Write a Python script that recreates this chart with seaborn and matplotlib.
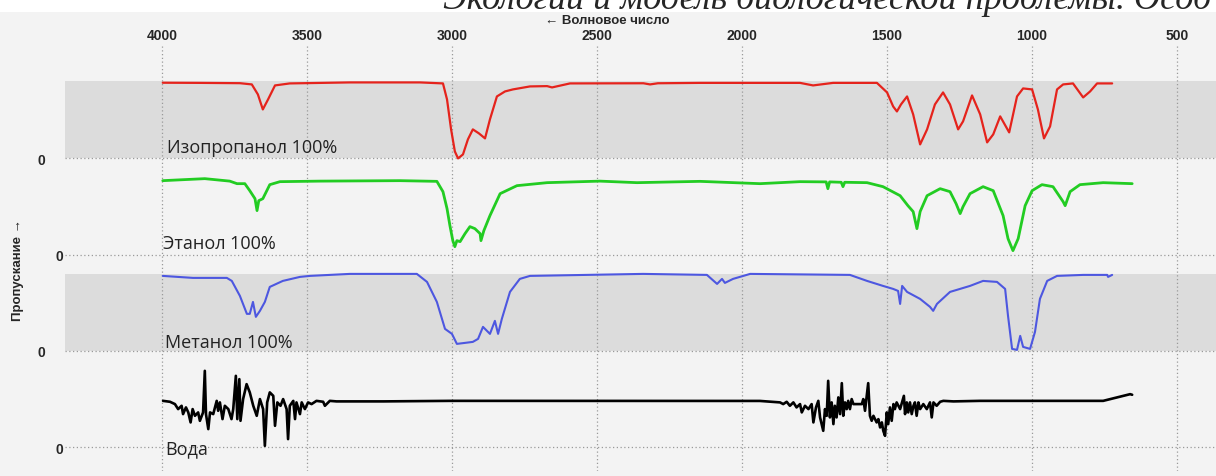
import pandas as pd
import seaborn as sns
import matplotlib.pyplot as plt
from matplotlib.patches import Rectangle

# IR spectra: wavenumber (cm-1) and transmittance (% of band)
iso_wn = [3997, 3869, 3731, 3690, 3669, 3652, 3634, 3610, 3559, 3352, 3110, 3031, 3017, 3003,
          2990, 2979, 2962, 2945, 2928, 2907, 2886, 2869, 2845, 2817, 2790, 2731, 2672, 2655,
          2593, 2340, 2317, 2290, 2145, 1800, 1755, 1686, 1535, 1500, 1479, 1466, 1452, 1431,
          1410, 1386, 1362, 1335, 1307, 1283, 1255, 1238, 1207, 1179, 1155, 1134, 1110, 1079,
          1052, 1031, 1000, 980, 959, 938, 914, 893, 859, 824, 800, 776, 724]
iso_t = [98.3, 98.1, 97.7, 96.1, 83.1, 63.6, 76.6, 94.8, 97.4, 98.7, 98.7, 97.4, 76.6, 37.7,
         9.1, 0, 5.2, 24.7, 37.7, 32.5, 26, 50.7, 80.5, 87, 89.6, 93.5, 93.9, 92.2,
         97.4, 97.6, 96.1, 97.6, 98.1, 98.1, 94.8, 98.1, 98.1, 85.7, 67.5, 61, 70.1, 80.5,
         57.2, 18.2, 37.7, 70.1, 85.7, 70.1, 37.7, 48.1, 81.8, 57.2, 20.8, 31.2, 54.6, 33.8,
         80.5, 90.9, 89.6, 63.6, 26, 41.6, 89.6, 96.1, 97.4, 79.2, 87, 97.4, 97.4]

eth_wn = [3997, 3852, 3766, 3741, 3714, 3697, 3679, 3672, 3666, 3652, 3628, 3593, 3455, 3179,
          3052, 3031, 3017, 3007, 2997, 2990, 2983, 2972, 2955, 2938, 2921, 2903, 2900, 2890,
          2869, 2834, 2776, 2672, 2490, 2362, 2145, 1938, 1800, 1710, 1704, 1698, 1658, 1652,
          1646, 1569, 1514, 1455, 1428, 1410, 1397, 1386, 1362, 1317, 1283, 1262, 1248, 1238,
          1214, 1169, 1134, 1100, 1083, 1066, 1048, 1024, 1000, 966, 928, 893, 886, 869, 835,
          755, 655]
eth_t = [96.1, 98.7, 95.5, 92.2, 92.2, 83.1, 72.7, 57.2, 70.1, 72.7, 90.9, 94.8, 95.5, 96.1,
         95.2, 81.8, 59.8, 37.7, 18.2, 10.4, 18.2, 16.9, 27.3, 36.4, 33.8, 27.3, 18.2, 31.2,
         50.7, 79.2, 89.6, 93.5, 95.5, 93.5, 95.2, 92.2, 94.8, 94.5, 85.7, 94.5, 94, 88.3,
         94, 93.5, 88.3, 76.6, 63.6, 55.9, 33.8, 55.9, 76.6, 85.7, 81.8, 66.2, 53.3, 62.4,
         79.2, 88.3, 83.1, 50.7, 20.8, 5.2, 20.8, 63.6, 83.1, 90.9, 88.3, 68.8, 63.6, 81.8, 90.9,
         93.5, 92.2]

met_wn = [3997, 3893, 3776, 3759, 3731, 3707, 3697, 3686, 3676, 3662, 3645, 3628, 3583, 3524,
          3490, 3352, 3121, 3086, 3052, 3024, 3000, 2983, 2955, 2928, 2910, 2893, 2869, 2852,
          2841, 2828, 2800, 2766, 2731, 2341, 2121, 2086, 2069, 2059, 2031, 1972, 1628, 1569,
          1514, 1479, 1462, 1455, 1448, 1431, 1386, 1352, 1341, 1328, 1283, 1214, 1169, 1121,
          1093, 1083, 1069, 1052, 1041, 1031, 1007, 990, 973, 948, 914, 824, 741, 738, 724]
met_t = [97.4, 94.8, 94.8, 90.9, 71.4, 48.1, 48.1, 63.6, 44.2, 52, 63.6, 83.1, 90.9, 96.1,
         97.4, 100, 100, 89.6, 63.6, 28.6, 22.1, 9.1, 10.4, 11.7, 15.6, 31.2, 22.1, 39,
         22.1, 41.6, 76.6, 93.5, 97.4, 100, 98.7, 87, 93.5, 88.3, 93.5, 100, 98.7, 90.9,
         84.4, 80.5, 77.9, 61, 84.4, 76.6, 67.5, 57.2, 52, 61, 76.6, 84.4, 90.9, 89.6,
         80.5, 45.5, 2.6, 1.3, 19.5, 5.2, 2.6, 24.7, 67.5, 90.9, 97.4, 98.7, 98.7, 96.1, 98.7]

wat_wn = [3996, 3972, 3955, 3944, 3932, 3927, 3917, 3909, 3901, 3894, 3886, 3875, 3869, 3858,
          3852, 3848, 3840, 3834, 3823, 3811, 3806, 3800, 3791, 3783, 3771, 3760, 3754, 3745,
          3740, 3733, 3729, 3720, 3708, 3697, 3685, 3673, 3662, 3651, 3645, 3637, 3628, 3616,
          3610, 3602, 3591, 3582, 3570, 3565, 3559, 3547, 3541, 3536, 3524, 3518, 3507, 3496,
          3484, 3467, 3444, 3438, 3421, 3398, 3237, 3007, 2938, 2500, 1938, 1900,
          1869, 1858, 1846, 1835, 1823, 1812, 1800, 1794, 1783, 1771, 1760, 1754, 1745, 1737,
          1731, 1720, 1714, 1708, 1703, 1697, 1691, 1685, 1680, 1674, 1668, 1662, 1656, 1651,
          1645, 1639, 1634, 1628, 1622, 1616, 1605, 1587, 1582, 1576, 1565, 1559, 1553, 1547,
          1536, 1530, 1524, 1518, 1513, 1507, 1501, 1496, 1490, 1484, 1478, 1473, 1467, 1455,
          1450, 1442, 1438, 1432, 1427, 1421, 1415, 1409, 1404, 1398, 1392, 1386, 1375, 1363,
          1352, 1346, 1340, 1329, 1317, 1306, 1271, 1180, 1111, 755, 707, 662, 655]
wat_t = [60.1, 58.9, 55.9, 49.4, 53.7, 42.9, 51.6, 45.1, 32.1, 49.4, 40.7, 45.1, 34.2, 45.1,
         99.1, 42.9, 23.4, 45.1, 42.9, 60.1, 47.2, 58.1, 36.4, 53.7, 49.4, 36.4, 49.4, 92.6,
         36.4, 88.3, 34.2, 62.4, 81.8, 71.1, 53.7, 40.7, 62.4, 49.4, 1.7, 58.1, 71.1, 66.6,
         27.7, 58.1, 53.7, 62.4, 49.4, 10.4, 53.7, 60.1, 36.4, 58.1, 42.9, 58.1, 49.4, 58.1,
         55.9, 60.1, 58.9, 53.7, 60.1, 59.4, 59.4, 60.1, 60.1, 60.0, 60.0, 58.9,
         58.1, 55.9, 58.9, 53.7, 58.1, 51.6, 55.9, 45.1, 53.7, 49.4, 55.9, 32.1, 51.6, 60.1,
         38.6, 21.2, 49.4, 40.7, 86.1, 38.6, 58.1, 29.9, 53.7, 38.6, 64.6, 42.9, 83.1, 40.7,
         58.1, 49.4, 60.1, 49.4, 62.4, 55.9, 55.9, 55.9, 62.4, 47.2, 83.1, 40.7, 34.2, 40.7,
         32.1, 36.4, 25.6, 32.1, 21.2, 14.7, 45.1, 29.9, 51.6, 34.2, 55.9, 49.4, 58.1, 49.4,
         55.9, 66.6, 42.9, 58.1, 45.1, 58.1, 42.9, 53.7, 58.1, 40.7, 58.1, 49.4, 55.9, 49.4,
         58.1, 38.6, 58.1, 53.7, 58.9, 60.1, 59.4, 60.1, 60.1, 60.1, 64.6, 68.8, 68.0]

samples = ["Изопропанол 100%", "Этанол 100%", "Метанол 100%", "Вода"]
colors = ["#e5231c", "#22cc22", "#4d57e0", "#000000"]

spectra = [(iso_wn, iso_t), (eth_wn, eth_t), (met_wn, met_t), (wat_wn, wat_t)]
offsets = [375, 250, 125, 0]
widths = [1.6, 2.0, 1.5, 1.9]
label_pos = [(3983, 383), (3997, 258), (3990, 130), (3990, -8)]

parts = []
for name, (wn, t), off in zip(samples, spectra, offsets):
    part = pd.DataFrame({"wn": wn, "T": t})
    part["sample"] = name
    part["y"] = part["T"] + off
    parts.append(part)
df = pd.concat(parts, ignore_index=True)

sns.set_style("white")
plt.rcParams['font.family'] = ['Liberation Sans', 'DejaVu Sans']

fig = plt.figure(figsize=(12.16, 4.77), dpi=100, facecolor="#f3f3f3")
fig.patches.append(Rectangle((0, 1 - 13 / 477), 1, 13 / 477, transform=fig.transFigure,
                             facecolor="white", edgecolor="none", zorder=0))
ax = fig.add_axes([65 / 1216, 5 / 477, 1 - 65 / 1216, 1 - 52 / 477])
ax.set_facecolor("#f3f3f3")

# grey bands behind isopropanol and methanol
ax.axhspan(375, 475, color="#dcdcdc", lw=0, zorder=1)
ax.axhspan(125, 225, color="#dcdcdc", lw=0, zorder=1)

for name, col, lw in zip(samples, colors, widths):
    sns.lineplot(data=df[df["sample"] == name], x="wn", y="y", color=col, linewidth=lw,
                 estimator=None, sort=False, legend=False, ax=ax, zorder=3)

for name, (lx, ly) in zip(samples, label_pos):
    ax.text(lx, ly, name, fontsize=13, family=["Open Sans", "DejaVu Sans"], color="#222222",
            ha="left", va="baseline", zorder=4)

ax.set_xlim(4334, 366)
ax.set_ylim(-31, 521)
ax.set_xticks([4000, 3500, 3000, 2500, 2000, 1500, 1000, 500])
ax.xaxis.tick_top()
ax.tick_params(axis="x", length=0, pad=3, labelsize=10)
for lbl in ax.get_xticklabels():
    lbl.set_fontweight("bold")

yt = [0, 125, 250, 375]
ax.set_yticks(yt)
ax.set_yticklabels(["0"] * 4)
ax.tick_params(axis="y", direction="in", color="#8c8c8c", width=1.5, labelsize=10)
for tick, loc in zip(ax.yaxis.get_major_ticks(), yt):
    tick.label1.set_fontweight("bold")
    if loc in (125, 375):
        tick.set_pad(14)
        tick.tick1line.set_markersize(17)
    else:
        tick.set_pad(1)
        tick.tick1line.set_markersize(10)

ax.set_axisbelow("line")
ax.grid(True, linestyle=(0, (1, 2)), color="#9a9a9a", linewidth=0.9)
for s in ax.spines.values():
    s.set_visible(False)
ax.set_xlabel("")
ax.set_ylabel("")

fig.text(607 / 1216, 1 - 21 / 477, "← Волновое число", fontsize=9.5, fontweight="bold",
         ha="center", va="center")
fig.text(18 / 1216, 1 - 270 / 477, "Пропускание →", fontsize=9.5, fontweight="bold",
         rotation=90, ha="center", va="center")
# caption of the page above the chart, cut by the top edge as in the source
fig.text(443 / 1216, 1 - 9 / 477, "Экологии и модель биологической проблемы. Особ",
         fontsize=26, style="italic", family=["Liberation Serif", "DejaVu Serif"],
         ha="left", va="baseline", zorder=5)

fig.savefig("out.png", dpi=100, facecolor=fig.get_facecolor())
